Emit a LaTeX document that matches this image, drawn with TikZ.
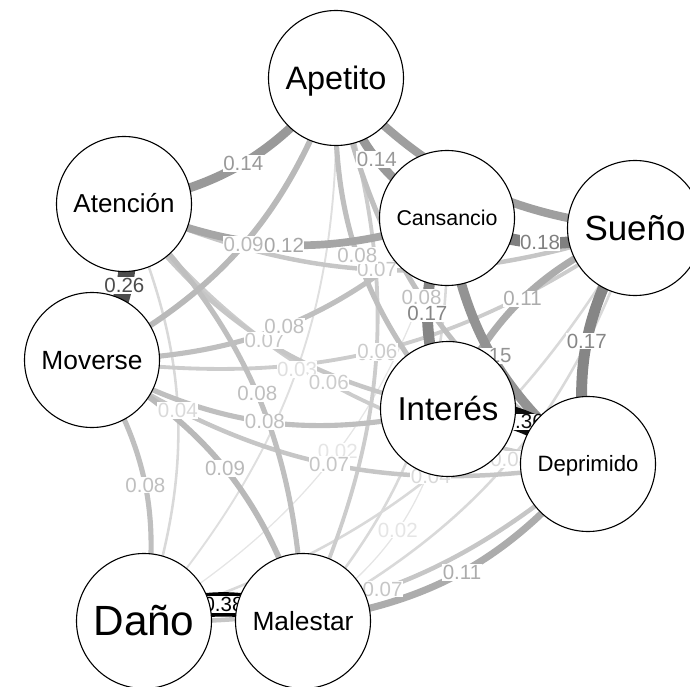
\documentclass[tikz,border=0pt]{standalone}
\usepackage{fontspec}
\setmainfont{Liberation Sans}
\usepackage{graphicx}

% edges below, edge labels in the middle, nodes on top
\pgfdeclarelayer{edgelayer}
\pgfdeclarelayer{labellayer}
\pgfsetlayers{edgelayer,labellayer,main}

\tikzset{
  vnode/.style={circle, draw=black, line width=1.1pt, fill=white,
                minimum size=135pt, inner sep=0pt},
  linkline/.style={line cap=butt},
  elabel/.style={fill=white, inner xsep=0.5pt, inner ysep=1pt,
                 font=\fontsize{20.5}{20.5}\selectfont},
}

% node names are all stretched to the same width, cap height centred
\newcommand\vname[1]{\resizebox{101pt}{!}{\vphantom{H}\smash{#1}}}

% \link{from}{to}{weight}{label}: width and grey level follow the weight
\newcommand\link[4]{%
  \pgfmathsetmacro\lw{max(1,64*#3)}%
  \pgfmathsetmacro\lc{min(100,5+250*#3)}%
  \begin{pgfonlayer}{edgelayer}
    \draw[linkline, line width=\lw pt, draw=black!\lc]
      (#1.center) to[bend left=21] (#2.center);
  \end{pgfonlayer}
  \begin{pgfonlayer}{labellayer}
    \path (#1.center) to[bend left=21]
      node[elabel, text=black!\lc] {#4} (#2.center);
  \end{pgfonlayer}}

\begin{document}
\begin{tikzpicture}[x=1pt,y=-1pt]
  \useasboundingbox (0,0) rectangle (690,687);

  % symptoms
  \node[vnode] (int) at (448,409) {\vname{Interés}};
  \node[vnode] (dep) at (588,464) {\vname{Deprimido}};
  \node[vnode] (sue) at (635,228) {\vname{Sueño}};
  \node[vnode] (can) at (447,218) {\vname{Cansancio}};
  \node[vnode] (ape) at (336,78)  {\vname{Apetito}};
  \node[vnode] (ate) at (124,204) {\vname{Atención}};
  \node[vnode] (mov) at (92,360)  {\vname{Moverse}};
  \node[vnode] (dan) at (144,621) {\vname{Daño}};
  \node[vnode] (mal) at (303,621) {\vname{Malestar}};

  % partial correlations, weakest first
  \link{int}{mal}{0.02}{0.02}
  \link{can}{dan}{0.02}{0.02}
  \link{ape}{dan}{0.03}{0.03}
  \link{sue}{dan}{0.04}{0.04}
  \link{sue}{mal}{0.04}{0.04}
  \link{ate}{dan}{0.04}{0.04}
  \link{can}{mal}{0.04}{0.04}
  \link{dep}{ate}{0.06}{0.06}
  \link{ape}{mal}{0.06}{0.06}
  \link{sue}{mov}{0.06}{0.06}
  \link{int}{ate}{0.07}{0.07}
  \link{dep}{mov}{0.07}{0.07}
  \link{dep}{dan}{0.07}{0.07}
  \link{sue}{ate}{0.07}{0.07}
  \link{int}{ape}{0.08}{0.08}
  \link{int}{mov}{0.08}{0.08}
  \link{dep}{ape}{0.08}{0.08}
  \link{can}{mov}{0.08}{0.08}
  \link{ate}{mal}{0.08}{0.08}
  \link{mov}{dan}{0.08}{0.08}
  \link{ape}{mov}{0.09}{0.09}
  \link{mov}{mal}{0.09}{0.09}
  \link{int}{sue}{0.11}{0.11}
  \link{dep}{mal}{0.11}{0.11}
  \link{can}{ate}{0.12}{0.12}
  \link{sue}{ape}{0.13}{0.13}
  \link{can}{ape}{0.14}{0.14}
  \link{ape}{ate}{0.14}{0.14}
  \link{dep}{can}{0.15}{0.15}
  \link{int}{can}{0.17}{0.17}
  \link{dep}{sue}{0.17}{0.17}
  \link{sue}{can}{0.18}{0.18}
  \link{ate}{mov}{0.26}{0.26}
  \link{int}{dep}{0.36}{0.36}
  \link{dan}{mal}{0.38}{0.38}
\end{tikzpicture}
\end{document}
